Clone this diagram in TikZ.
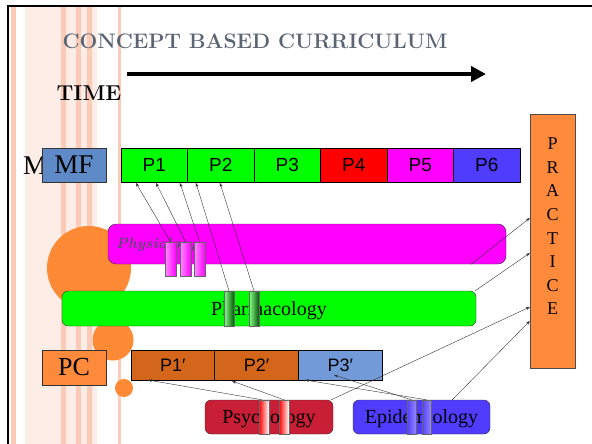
\documentclass[tikz,border=0pt]{standalone}
\usepackage{fontspec}
\usepackage{tikz}
\usetikzlibrary{%
  arrows.meta,%
  positioning%
}
\newfontfamily\timesfont{Liberation Serif}
\newfontfamily\arialfont{Liberation Sans}
\definecolor{titlegray}{HTML}{5B6475}
\definecolor{physgray}{HTML}{5E4A70}
\definecolor{stripe}{HTML}{FCCBB8}
\definecolor{stripelight}{HTML}{FDEDE6}
\definecolor{dotorange}{HTML}{FF8A35}
\definecolor{tagorange}{HTML}{FF8A3C}
\definecolor{mfblue}{HTML}{5F8AC8}
\definecolor{pgreen}{HTML}{00FF00}
\definecolor{pred}{HTML}{FF0000}
\definecolor{pmagenta}{HTML}{FF00FF}
\definecolor{pblue}{HTML}{503CFF}
\definecolor{qorange}{HTML}{D4661C}
\definecolor{qblue}{HTML}{739AD8}
\definecolor{psyred}{HTML}{C81E36}
\tikzset{
  cell/.style={draw=black, line width=0.8pt, outer sep=0pt, inner sep=0pt,
    minimum width=66.5pt, minimum height=34pt,
    font=\arialfont\fontsize{19}{21}\selectfont},
  qcell/.style={cell, minimum width=83.7pt, minimum height=30pt,
    font=\arialfont\fontsize{18}{20}\selectfont},
  tag/.style={draw=black!80, inner sep=0pt, minimum width=64pt,
    minimum height=34pt, font=\timesfont\fontsize{26}{28}\selectfont},
  subject/.style={draw=black!80, rounded corners=6pt, inner sep=0pt,
    text depth=0pt, font=\timesfont\fontsize{20}{22}\selectfont},
  bar/.style={draw=black!60, inner sep=0pt, minimum width=10pt,
    minimum height=34pt},
  link/.style={-{Stealth[length=4pt,width=3pt]}, line width=0.4pt, black!80}
}
\begin{document}
\begin{tikzpicture}[x=1pt,y=-1pt]
  \useasboundingbox (0,0) rectangle (592,444);
  % stripes down the left side
  \fill [stripelight] (25,6) rectangle (97,444);
  \fill [stripe] (11,6) rectangle (16,444);
  \foreach \x in {61,76,87}
    \fill [stripe] (\x,6) rectangle ++(5,438);
  \fill [stripe] (118,6) rectangle (121,444);
  \draw [line width=2pt] (8,444) -- (8,6) -- (592,6);
  % orange dots
  \fill [dotorange] (89,268) circle (42pt);
  \fill [dotorange] (113,340) circle (20.5pt);
  \fill [dotorange] (124,388) circle (9pt);

  \node [font=\bfseries\fontsize{21}{24}\selectfont, text=titlegray] (title)
    at (255,41) {CONCEPT BASED CURRICULUM};
  \node [font=\bfseries\fontsize{21.5}{24}\selectfont] (time) at (89,93) {TIME};
  \coordinate (tstart) at (127,74);
  \coordinate (tend) at (486,74);
  \draw [line width=4pt, -{Triangle[length=15pt,width=15pt]}] (tstart) -- (tend);

  % first row
  \node [anchor=west, inner sep=0pt, font=\timesfont\fontsize{27}{29}\selectfont]
    (mm) at (23,166) {M};
  \node [tag, fill=mfblue, font=\timesfont\fontsize{27}{29}\selectfont] (mf)
    at (74,165) {MF};
  \node [cell, fill=pgreen] (p1) at (154.25,165) {P1};
  \node [cell, fill=pgreen, right=0pt of p1] (p2) {P2};
  \node [cell, fill=pgreen, right=0pt of p2] (p3) {P3};
  \node [cell, fill=pred, right=0pt of p3] (p4) {P4};
  \node [cell, fill=pmagenta, right=0pt of p4] (p5) {P5};
  \node [cell, fill=pblue, right=0pt of p5] (p6) {P6};

  \node [draw=black!70, fill=tagorange, minimum width=45pt, minimum height=254pt]
    (prac) at (552.5,241) {};
  \node [anchor=north, align=center, inner sep=0pt,
         font=\timesfont\fontsize{18}{23.6}\selectfont]
    (practext) at ([yshift=-24pt]prac.north) {P\\R\\A\\C\\T\\I\\C\\E};

  % subjects
  \node [subject, fill=pmagenta, rounded corners=8pt, minimum width=398pt,
         minimum height=40pt] (phys) at (307,244) {};
  \node [anchor=west, inner sep=0pt, text=physgray,
         font=\bfseries\itshape\fontsize{15}{17}\selectfont]
    (physname) at (116,245) {Physiology};
  \foreach \x [count=\i] in {170.5,185.5,199.5}
    \node [bar, minimum width=11pt, left color=pmagenta!45!white,
           middle color=white, right color=pmagenta] (pb\i) at (\x,259) {};

  \node [subject, fill=pgreen, minimum width=414pt, minimum height=35pt]
    (pharm) at (269,308.5) {Pharmacology};
  \foreach \x [count=\i] in {229,254}
    \node [bar, minimum height=35pt, left color=green!45!white,
           right color=green!35!black] (gb\i) at (\x,308.5) {};

  % second row
  \node [tag, fill=tagorange, minimum height=35pt] (pc) at (74,367.5) {PC};
  \node [qcell, fill=qorange] (q1) at (172.85,365) {P1′};
  \node [qcell, fill=qorange, right=0pt of q1] (q2) {P2′};
  \node [qcell, fill=qblue, right=0pt of q2] (q3) {P3′};

  \node [subject, fill=psyred, minimum width=128pt, minimum height=34pt]
    (psy) at (269,417) {Psychology};
  \foreach \x [count=\i] in {264,284}
    \node [bar, left color=red, right color=white] (rb\i) at (\x,417) {};
  \node [subject, fill=pblue, minimum width=137pt, minimum height=34pt]
    (epi) at (421.5,417) {Epidemiology};
  \foreach \x [count=\i] in {411.5,426.5}
    \node [bar, minimum width=9.5pt, left color=pblue, middle color=white,
           right color=pblue!60!white] (eb\i) at (\x,417) {};

  % links up to the first row
  \coordinate (t1) at (136,183);
  \coordinate (t2) at (156,183);
  \coordinate (t3) at (180,183);
  \coordinate (t4) at (196,183);
  \coordinate (t5) at (220,183);
  \draw [link] (pb1.north) -- (t1);
  \draw [link] (pb2.north) -- (t2);
  \draw [link] (pb3.north) -- (t3);
  \draw [link] (gb1.north) -- (t4);
  \draw [link] (gb2.north) -- (t5);

  % links up to the second row
  \coordinate (u1) at (148,380);
  \coordinate (u2) at (232,381);
  \coordinate (u3) at (305,380);
  \coordinate (u4) at (334,375);
  \draw [link] ([xshift=-2pt]rb1.north) -- (u1);
  \draw [link] (rb2.north) -- (u2);
  \draw [link] (eb2.north) -- (u3);
  \draw [link] (eb1.north) -- (u4);

  % links to practice
  \draw [link] ([xshift=-35pt]phys.south east) -- ([yshift=23pt]prac.west);
  \draw [link] ([xshift=-1pt]pharm.north east) -- ([yshift=-12pt]prac.west);
  \draw [link] ([xshift=-2pt]psy.north east) -- ([yshift=-66pt]prac.west);
  \draw [link] ([xshift=-38pt]epi.north east) -- ([yshift=-80pt]prac.west);
\end{tikzpicture}
\end{document}
